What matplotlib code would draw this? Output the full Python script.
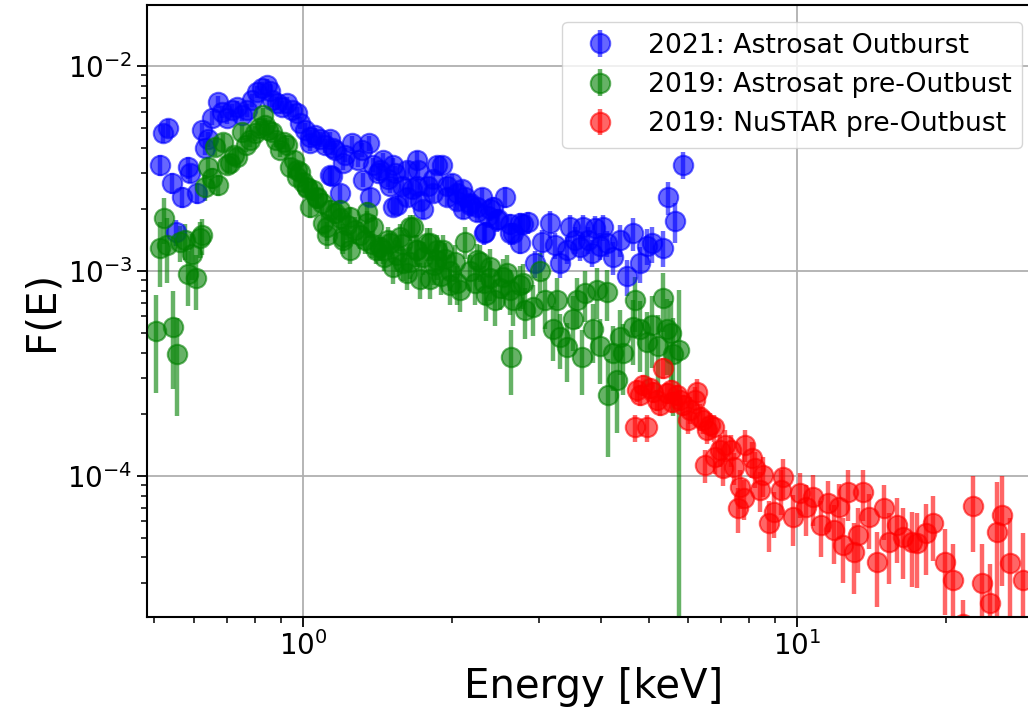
import matplotlib
matplotlib.use("Agg")
import matplotlib.pyplot as plt
import numpy as np

# 2021 Astrosat outburst spectrum: energy [keV], F(E), fractional error
blue_E = [0.513, 0.520, 0.533, 0.543, 0.553, 0.569, 0.585, 0.590, 0.610, 0.625,
          0.633, 0.642, 0.654, 0.673, 0.686, 0.701, 0.718, 0.735, 0.753, 0.770,
          0.789, 0.807, 0.826, 0.846, 0.857, 0.866, 0.886, 0.907, 0.928, 0.950,
          0.972, 0.986, 1.010, 1.033, 1.057, 1.083, 1.108, 1.134, 1.161, 1.145,
          1.188, 1.216, 1.256, 1.292, 1.317, 1.360, 1.366, 1.386, 1.415, 1.452,
          1.486, 1.521, 1.536, 1.550, 1.588, 1.624, 1.663, 1.703, 1.710, 1.725,
          1.748, 1.790, 1.832, 1.867, 1.911, 1.956, 2.003, 2.050, 2.099, 2.130,
          2.178, 2.252, 2.305, 2.337, 2.37, 2.42, 2.48, 2.56, 2.625, 2.66,
          2.75, 2.85, 2.95, 3.05, 3.16, 3.24, 3.31, 3.42, 3.47, 3.55,
          3.64, 3.69, 3.77, 3.85, 3.90, 3.99, 4.05, 4.13, 4.24, 4.38,
          4.53, 4.66, 4.81, 4.97, 5.09, 5.34, 5.48, 5.66, 5.88,
          1.033, 1.15, 1.205, 1.134, 1.323, 1.432, 1.50, 1.521, 1.624, 1.703,
          1.832, 1.956, 2.05, 2.11, 2.178, 2.25, 2.39, 2.47, 2.32, 2.625,
          2.78, 2.75]
blue_F = [3.3e-3, 4.7e-3, 5.0e-3, 2.7e-3, 1.55e-3, 2.3e-3, 3.2e-3, 3.0e-3, 2.4e-3, 4.9e-3,
          4.0e-3, 4.4e-3, 5.6e-3, 6.7e-3, 6.0e-3, 5.6e-3, 6.1e-3, 6.3e-3, 5.8e-3, 6.1e-3,
          6.8e-3, 7.5e-3, 7.8e-3, 8.1e-3, 7.6e-3, 6.8e-3, 6.6e-3, 6.3e-3, 6.6e-3, 6.1e-3,
          5.9e-3, 5.3e-3, 4.9e-3, 4.5e-3, 4.6e-3, 4.4e-3, 4.1e-3, 4.4e-3, 3.9e-3, 2.9e-3,
          2.4e-3, 3.7e-3, 4.2e-3, 3.5e-3, 3.9e-3, 4.2e-3, 2.3e-3, 3.3e-3, 3.0e-3, 3.5e-3,
          2.8e-3, 3.3e-3, 3.0e-3, 2.1e-3, 2.6e-3, 3.1e-3, 2.5e-3, 3.5e-3, 3.1e-3, 2.2e-3,
          2.0e-3, 2.6e-3, 2.4e-3, 3.3e-3, 3.3e-3, 2.6e-3, 2.7e-3, 2.2e-3, 2.5e-3, 2.3e-3,
          2.1e-3, 2.05e-3, 2.3e-3, 1.55e-3, 1.85e-3, 2.05e-3, 1.8e-3, 2.3e-3, 1.7e-3, 1.53e-3,
          1.71e-3, 1.73e-3, 1.09e-3, 1.38e-3, 1.71e-3, 1.34e-3, 1.09e-3, 1.27e-3, 1.64e-3, 1.42e-3,
          1.31e-3, 1.64e-3, 1.42e-3, 1.23e-3, 1.62e-3, 1.33e-3, 1.64e-3, 1.37e-3, 1.17e-3, 1.42e-3,
          9.4e-4, 1.53e-3, 1.09e-3, 1.33e-3, 1.37e-3, 1.30e-3, 2.3e-3, 1.76e-3, 3.3e-3,
          4.2e-3, 4.0e-3, 3.37e-3, 2.95e-3, 2.78e-3, 3.1e-3, 2.6e-3, 2.05e-3, 2.3e-3, 2.6e-3,
          2.8e-3, 2.3e-3, 2.4e-3, 2.0e-3, 2.15e-3, 1.93e-3, 2.0e-3, 1.77e-3, 1.53e-3, 1.53e-3,
          1.7e-3, 1.37e-3]
blue_err = [0.12, 0.10, 0.10, 0.12, 0.15, 0.12, 0.12, 0.10, 0.12, 0.08,
            0.08, 0.08, 0.08, 0.07, 0.07, 0.07, 0.07, 0.07, 0.07, 0.07,
            0.07, 0.07, 0.07, 0.07, 0.07, 0.07, 0.07, 0.07, 0.07, 0.07,
            0.07, 0.07, 0.08, 0.08, 0.08, 0.08, 0.08, 0.08, 0.08, 0.10,
            0.10, 0.08, 0.08, 0.08, 0.08, 0.08, 0.10, 0.08, 0.08, 0.08,
            0.08, 0.08, 0.08, 0.10, 0.10, 0.10, 0.10, 0.10, 0.10, 0.10,
            0.10, 0.10, 0.10, 0.10, 0.10, 0.10, 0.10, 0.10, 0.10, 0.10,
            0.10, 0.10, 0.10, 0.12, 0.12, 0.12, 0.12, 0.12, 0.12, 0.12,
            0.12, 0.12, 0.15, 0.15, 0.15, 0.15, 0.15, 0.15, 0.15, 0.15,
            0.15, 0.15, 0.15, 0.15, 0.15, 0.15, 0.15, 0.15, 0.18, 0.18,
            0.20, 0.18, 0.20, 0.20, 0.20, 0.20, 0.18, 0.22, 0.15,
            0.08, 0.08, 0.08, 0.10, 0.08, 0.08, 0.08, 0.10, 0.10, 0.10,
            0.10, 0.10, 0.10, 0.10, 0.10, 0.10, 0.12, 0.12, 0.12, 0.12,
            0.12, 0.12]

# 2019 Astrosat pre-outburst spectrum
green_E = [0.504, 0.513, 0.523, 0.531, 0.546, 0.556, 0.564, 0.577, 0.585, 0.596,
           0.607, 0.619, 0.625, 0.633, 0.642, 0.654, 0.663, 0.673, 0.689, 0.701,
           0.711, 0.725, 0.735, 0.753, 0.767, 0.781, 0.800, 0.815, 0.830, 0.838,
           0.850, 0.866, 0.882, 0.898, 0.915, 0.928, 0.941, 0.959, 0.972, 0.986,
           1.000, 1.019, 1.033, 1.048, 1.067, 1.093, 1.118, 1.134, 1.161, 1.188,
           1.205, 1.228, 1.245, 1.274, 1.304, 1.335, 1.347, 1.379, 1.405, 1.432,
           1.459, 1.486, 1.521, 1.550, 1.588, 1.624, 1.646, 1.670, 1.694, 1.725,
           1.748, 1.782, 1.807, 1.840, 1.867, 1.902, 1.940, 1.984, 2.03, 2.08,
           2.13, 2.18, 2.23, 2.28, 2.34, 2.39, 2.45, 2.50, 2.59, 2.63,
           2.66, 2.75, 2.81, 2.92, 3.02, 3.09, 3.20, 3.26, 3.31, 3.42,
           3.52, 3.59, 3.67, 3.72, 3.86, 3.94, 3.99, 4.12, 4.14, 4.24,
           4.32, 4.38, 4.44, 4.66, 4.70, 4.81, 4.97, 5.09, 5.23, 5.36,
           5.46, 5.54, 5.61, 5.75,
           0.972, 1.019, 1.067, 1.098, 1.12, 1.188, 1.245, 1.205, 1.347, 1.386,
           1.452, 1.50, 1.571, 1.646, 1.59, 1.703, 1.807, 1.867, 1.92, 1.984,
           2.05, 2.25, 2.39, 2.32, 2.54, 2.625, 2.78]
green_F = [5.1e-4, 1.29e-3, 1.81e-3, 1.34e-3, 5.33e-4, 3.94e-4, 1.38e-3, 1.42e-3, 9.67e-4, 1.21e-3,
           9.2e-4, 1.45e-3, 1.5e-3, 2.57e-3, 3.22e-3, 2.85e-3, 4.03e-3, 2.63e-3, 4.26e-3, 3.29e-3,
           3.37e-3, 3.68e-3, 3.6e-3, 4.76e-3, 4.12e-3, 4.36e-3, 4.71e-3, 4.98e-3, 5.75e-3, 5.15e-3,
           4.87e-3, 4.76e-3, 4.36e-3, 3.9e-3, 4.26e-3, 4.12e-3, 3.22e-3, 3.5e-3, 2.88e-3, 3.04e-3,
           2.72e-3, 2.54e-3, 2.05e-3, 2.49e-3, 2.27e-3, 2.15e-3, 1.64e-3, 1.98e-3, 1.92e-3, 1.81e-3,
           1.42e-3, 1.67e-3, 1.27e-3, 1.59e-3, 1.5e-3, 1.42e-3, 1.71e-3, 1.36e-3, 1.27e-3, 1.31e-3,
           1.17e-3, 1.42e-3, 1.05e-3, 1.2e-3, 1.35e-3, 9.8e-4, 1.11e-3, 1.64e-3, 1.27e-3, 9.1e-4,
           1.17e-3, 1.37e-3, 9.1e-4, 1.07e-3, 1.27e-3, 9.5e-4, 1.14e-3, 8.55e-4, 1.11e-3, 8.1e-4,
           1.39e-3, 1.0e-3, 8.7e-4, 1.11e-3, 7.6e-4, 9.2e-4, 7.2e-4, 8.3e-4, 9.8e-4, 3.8e-4,
           7.2e-4, 8.5e-4, 6.46e-4, 6.67e-4, 1.0e-3, 7.2e-4, 5.2e-4, 7.2e-4, 4.76e-4, 4.24e-4,
           5.8e-4, 7.2e-4, 3.8e-4, 7.8e-4, 5.2e-4, 8.1e-4, 4.3e-4, 7.9e-4, 2.48e-4, 4.0e-4,
           2.94e-4, 4.76e-4, 4.0e-4, 5.33e-4, 7.2e-4, 5.2e-4, 4.5e-4, 5.45e-4, 4.3e-4, 7.4e-4,
           5.2e-4, 5.0e-4, 3.94e-4, 4.1e-4,
           3.1e-3, 2.57e-3, 2.3e-3, 1.71e-3, 1.5e-3, 1.98e-3, 1.83e-3, 1.47e-3, 1.93e-3, 1.64e-3,
           1.27e-3, 1.37e-3, 1.47e-3, 1.64e-3, 1.09e-3, 1.27e-3, 1.37e-3, 1.13e-3, 1.27e-3, 1.0e-3,
           8.7e-4, 1.13e-3, 1.05e-3, 8.7e-4, 9.35e-4, 8.1e-4, 8.7e-4]
green_err = [0.50, 0.35, 0.25, 0.35, 0.50, 0.50, 0.20, 0.20, 0.30, 0.25,
             0.30, 0.20, 0.20, 0.15, 0.12, 0.12, 0.10, 0.12, 0.10, 0.10,
             0.10, 0.10, 0.10, 0.08, 0.08, 0.08, 0.08, 0.08, 0.08, 0.08,
             0.08, 0.08, 0.08, 0.08, 0.08, 0.08, 0.10, 0.10, 0.10, 0.10,
             0.10, 0.10, 0.12, 0.12, 0.12, 0.12, 0.15, 0.12, 0.12, 0.12,
             0.15, 0.15, 0.15, 0.15, 0.15, 0.15, 0.15, 0.15, 0.15, 0.15,
             0.15, 0.15, 0.18, 0.18, 0.18, 0.18, 0.18, 0.15, 0.18, 0.20,
             0.18, 0.18, 0.20, 0.20, 0.18, 0.20, 0.20, 0.20, 0.20, 0.22,
             0.18, 0.20, 0.22, 0.20, 0.25, 0.22, 0.25, 0.22, 0.22, 0.35,
             0.25, 0.25, 0.28, 0.28, 0.22, 0.28, 0.30, 0.28, 0.30, 0.32,
             0.30, 0.28, 0.35, 0.28, 0.32, 0.28, 0.35, 0.28, 0.50, 0.35,
             0.45, 0.35, 0.38, 0.35, 0.30, 0.38, 0.40, 0.38, 0.42, 0.32,
             0.40, 0.42, 0.50, 0.97,
             0.10, 0.10, 0.10, 0.12, 0.15, 0.12, 0.12, 0.15, 0.12, 0.15,
             0.15, 0.15, 0.15, 0.15, 0.18, 0.18, 0.18, 0.20, 0.18, 0.20,
             0.22, 0.20, 0.22, 0.22, 0.22, 0.25, 0.25]

# 2019 NuSTAR pre-outburst spectrum
red_E = [4.70, 4.74, 4.88, 4.97, 5.04, 5.20, 5.36, 5.46, 5.58, 5.72,
         5.88, 6.02, 6.27, 6.37, 6.52, 6.58, 6.77, 6.83, 6.99, 7.09,
         7.33, 7.44, 7.57, 7.67, 7.79, 8.11, 8.23, 8.42, 8.54, 8.75,
         8.96, 9.25, 9.35, 9.82, 10.15, 10.40, 10.78, 11.15, 11.53, 11.86,
         12.13, 12.36, 12.64, 13.0, 13.3, 13.6, 14.0, 14.5, 15.0, 15.3,
         15.9, 16.4, 17.1, 17.5, 18.2, 18.8, 19.9, 20.7, 21.7, 22.7,
         23.7, 24.6, 25.4, 26.0, 27.0, 28.6,
         4.81, 5.11, 5.28, 5.54, 5.80, 6.08, 6.22, 6.44, 6.67, 7.15, 7.85]
red_F = [1.73e-4, 2.62e-4, 2.78e-4, 1.73e-4, 2.69e-4, 2.35e-4, 3.37e-4, 2.54e-4, 2.3e-4, 2.48e-4,
         2.22e-4, 1.88e-4, 2.57e-4, 1.94e-4, 1.13e-4, 1.68e-4, 1.73e-4, 1.24e-4, 1.34e-4, 1.09e-4,
         1.34e-4, 1.1e-4, 7.0e-5, 8.8e-5, 7.8e-5, 1.22e-4, 1.09e-4, 8.55e-5, 1.01e-4, 5.9e-5,
         6.67e-5, 8.55e-5, 9.9e-5, 6.3e-5, 8.26e-5, 7.06e-5, 7.9e-5, 5.77e-5, 7.4e-5, 5.45e-5,
         7.06e-5, 4.61e-5, 8.35e-5, 4.26e-5, 5.15e-5, 8.35e-5, 6.3e-5, 3.81e-5, 6.98e-5, 4.77e-5,
         5.77e-5, 5.04e-5, 4.77e-5, 4.72e-5, 5.27e-5, 5.9e-5, 3.81e-5, 3.11e-5, 1.9e-5, 7.1e-5,
         3.01e-5, 2.4e-5, 5.33e-5, 6.45e-5, 3.77e-5, 3.11e-5,
         2.48e-4, 2.57e-4, 2.22e-4, 2.62e-4, 2.35e-4, 2.1e-4, 2.35e-4, 1.88e-4, 1.77e-4, 1.42e-4, 1.42e-4]
red_err = [0.15, 0.12, 0.12, 0.15, 0.12, 0.12, 0.12, 0.12, 0.12, 0.12,
           0.12, 0.15, 0.15, 0.15, 0.18, 0.15, 0.15, 0.18, 0.18, 0.18,
           0.18, 0.18, 0.25, 0.22, 0.22, 0.20, 0.20, 0.22, 0.22, 0.28,
           0.25, 0.25, 0.22, 0.28, 0.25, 0.28, 0.28, 0.30, 0.28, 0.32,
           0.30, 0.35, 0.28, 0.38, 0.35, 0.28, 0.30, 0.40, 0.30, 0.38,
           0.35, 0.38, 0.40, 0.40, 0.38, 0.35, 0.45, 0.50, 0.30, 0.40,
           0.55, 0.55, 0.75, 0.55, 0.65, 0.70,
           0.12, 0.12, 0.12, 0.12, 0.12, 0.15, 0.15, 0.15, 0.15, 0.18, 0.18]

series = [
    (blue_E, blue_F, blue_err, "blue", "2021: Astrosat Outburst"),
    (green_E, green_F, green_err, "green", "2019: Astrosat pre-Outbust"),
    (red_E, red_F, red_err, "red", "2019: NuSTAR pre-Outbust"),
]

fig = plt.figure(figsize=(10.28, 7.19), dpi=100)
ax = fig.add_axes([0.143, 0.142, 0.8687, 0.851])

for E, F, err, col, lab in series:
    F = np.array(F)
    ax.errorbar(E, F, yerr=F * np.array(err), fmt="o", color=col, alpha=0.6,
                ms=14, mew=1.5, elinewidth=3.2, capsize=0, label=lab)

ax.set_xscale("log")
ax.set_yscale("log")
ax.set_xlim(0.483, 31.0)
ax.set_ylim(2.05e-5, 1.986e-2)
ax.grid(True, which="major", color="#b0b0b0", lw=1.3)
ax.set_axisbelow(True)

ax.tick_params(which="major", labelsize=20, length=7, width=1.3)
ax.tick_params(which="minor", length=4, width=1.1)
for s in ax.spines.values():
    s.set_linewidth(1.5)

ax.set_xlabel("Energy [keV]", fontsize=29)
ax.set_ylabel("F(E)", fontsize=29)

ax.legend(loc="upper right", bbox_to_anchor=(1022 / 1028, 1 - 22 / 719),
          bbox_transform=fig.transFigure, borderaxespad=0, fontsize=19.2)

fig.savefig("out.png", dpi=100)
